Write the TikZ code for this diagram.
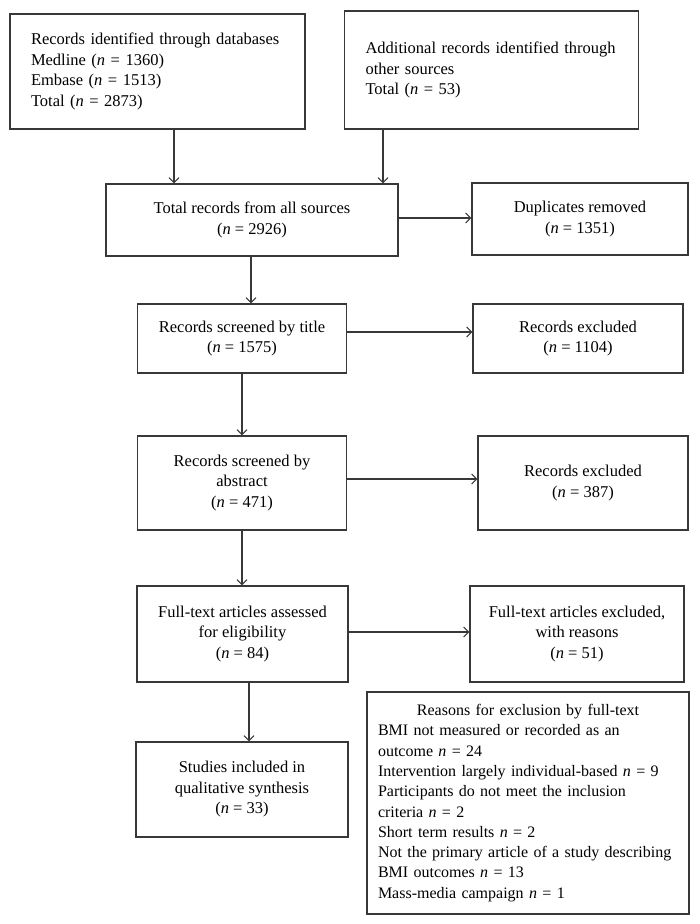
\documentclass[tikz,border=0pt]{standalone}
\usepackage{fontspec}
\setmainfont{Liberation Serif}
\usetikzlibrary{arrows.meta}
\tikzset{
    box/.style={draw=black!78, line width=1.1pt, align=center, inner sep=0pt,
        font=\fontsize{16.5}{20.5}\selectfont},
    lbox/.style={box, align=left, inner xsep=21pt},
    arr/.style={draw=black!78, line width=1.1pt, -{Straight Barb[length=5pt,width=10pt]}}
}
\newcommand{\nn}{\textit{n}}

\begin{document}
\begin{tikzpicture}[x=1pt, y=-1pt]
    \useasboundingbox (0,0) rectangle (700,924);
    \node[lbox, text width=253pt, minimum height=115pt] (DB) at (157.5,71.5)
        {Records identified through databases\\
         Medline (\nn{} = 1360)\\
         Embase (\nn{} = 1513)\\
         Total (\nn{} = 2873)};
    \node[lbox, text width=252pt, minimum height=118pt] (OS) at (491.5,70)
        {Additional records identified through\\
         other sources\\
         Total (\nn{} = 53)};
    \node[box, minimum width=292pt, minimum height=72pt] (T) at (252,220)
        {Total records from all sources\\(\nn{} = 2926)};
    \node[box, minimum width=216pt, minimum height=72pt] (D) at (580,219)
        {Duplicates removed\\(\nn{} = 1351)};
    \node[box, minimum width=209pt, minimum height=69pt] (S1) at (242,338.5)
        {Records screened by title\\(\nn{} = 1575)};
    \node[box, minimum width=210pt, minimum height=69pt] (E1) at (578,338.5)
        {Records excluded\\(\nn{} = 1104)};
    \node[box, minimum width=209pt, minimum height=94pt] (S2) at (242,483)
        {Records screened by\\abstract\\(\nn{} = 471)};
    \node[box, minimum width=210pt, minimum height=94pt] (E2) at (583,483)
        {Records excluded\\(\nn{} = 387)};
    \node[box, minimum width=211pt, minimum height=96pt] (F) at (242.5,634)
        {Full-text articles assessed\\for eligibility\\(\nn{} = 84)};
    \node[box, minimum width=214pt, minimum height=96pt] (E3) at (577,634)
        {Full-text articles excluded,\\with reasons\\(\nn{} = 51)};
    \node[box, minimum width=212pt, minimum height=95pt] (Q) at (242,789.5)
        {Studies included in\\qualitative synthesis\\(\nn{} = 33)};
    \node[box, align=left, text width=300pt, inner xsep=11pt, minimum height=222pt,
        font=\fontsize{16}{20.3}\selectfont] (R) at (528,803)
        {\makebox[\linewidth]{Reasons for exclusion by full-text}\\
         BMI not measured or recorded as an\\
         outcome \nn{} = 24\\
         Intervention largely individual-based \nn{} = 9\\
         Participants do not meet the inclusion\\
         criteria \nn{} = 2\\
         Short term results \nn{} = 2\\
         Not the primary article of a study describing\\
         BMI outcomes \nn{} = 13\\
         Mass-media campaign \nn{} = 1};
    \draw[arr] ([xshift=16.5pt]DB.south) -- ([xshift=16.5pt]DB.south |- T.north);
    \draw[arr] ([xshift=-108.5pt]OS.south) -- ([xshift=-108.5pt]OS.south |- T.north);
    \draw[arr] ([yshift=2pt]T.east) -- ([yshift=2pt]T.east -| D.west);
    \draw[arr] ([xshift=-1pt]T.south) -- ([xshift=-1pt]T.south |- S1.north);
    \draw[arr] ([yshift=6.5pt]S1.east) -- ([yshift=6.5pt]S1.east -| E1.west);
    \draw[arr] (S1) -- (S2);
    \draw[arr] ([yshift=4pt]S2.east) -- ([yshift=4pt]S2.east -| E2.west);
    \draw[arr] (S2.south) -- (S2.south |- F.north);
    \draw[arr] ([yshift=2pt]F.east) -- ([yshift=2pt]F.east -| E3.west);
    \draw[arr] ([xshift=6.5pt]F.south) -- ([xshift=6.5pt]F.south |- Q.north);
\end{tikzpicture}
\end{document}
